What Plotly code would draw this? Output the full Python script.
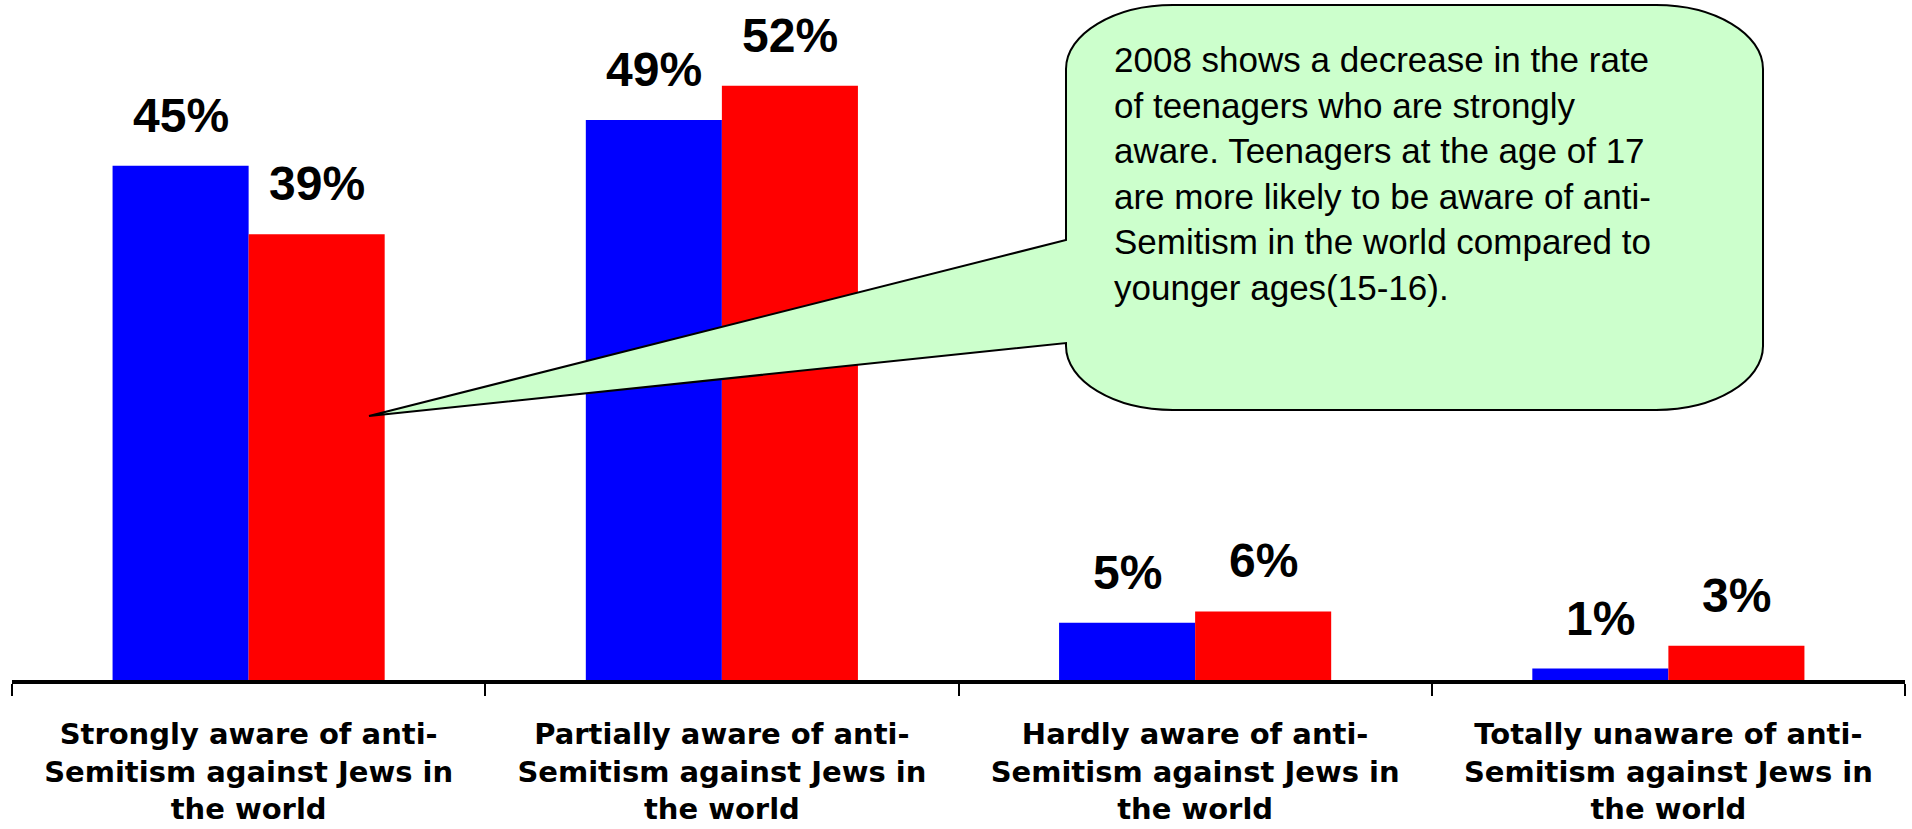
import plotly.graph_objects as go

# Chart data
categories = [
    "Strongly aware of anti-<br>Semitism against Jews in<br>the world",
    "Partially aware of anti-<br>Semitism against Jews in<br>the world",
    "Hardly aware of anti-<br>Semitism against Jews in<br>the world",
    "Totally unaware of anti-<br>Semitism against Jews in<br>the world",
]
series_names = ["Earlier survey", "2008"]
values_blue = [45, 49, 5, 1]
values_red = [39, 52, 6, 3]
callout_text = (
    "2008 shows a decrease in the rate<br>"
    "of teenagers who are strongly<br>"
    "aware. Teenagers at the age of 17<br>"
    "are more likely to be aware of anti-<br>"
    "Semitism in the world compared to<br>"
    "younger ages(15-16)."
)

W, H = 1912, 829
ML, MR, MT, MB = 12, 7, 0, 149
BARGAP = 0.425

fig = go.Figure()
fig.add_trace(go.Bar(x=categories, y=values_blue, name=series_names[0],
                     marker_color="#0000FF", marker_line_width=0))
fig.add_trace(go.Bar(x=categories, y=values_red, name=series_names[1],
                     marker_color="#FF0000", marker_line_width=0))

# value labels above each bar
bw = (1 - BARGAP) / 2
for i in range(len(categories)):
    for vals, off in ((values_blue, -bw / 2), (values_red, bw / 2)):
        fig.add_annotation(
            x=i + off, y=vals[i], xref="x", yref="y",
            text=f"{vals[i]}%", showarrow=False,
            yanchor="bottom", yshift=22,
            font=dict(family="Liberation Sans, Arial", size=48,
                      color="black", weight="bold"),
        )


# callout bubble (pixel coords -> paper coords)
pw = W - ML - MR
ph = H - MT - MB


def px(x, y):
    return f"{(x - ML) / pw:.5f},{(H - MB - y) / ph:.5f}"


x0, x1, y0, y1 = 1066, 1763, 5, 410
rx, ry = 107, 64
path = (
    f"M {px(x0 + rx, y0)} L {px(x1 - rx, y0)} "
    f"C {px(x1 - rx * 0.45, y0)} {px(x1, y0 + ry * 0.45)} {px(x1, y0 + ry)} "
    f"L {px(x1, y1 - ry)} "
    f"C {px(x1, y1 - ry * 0.45)} {px(x1 - rx * 0.45, y1)} {px(x1 - rx, y1)} "
    f"L {px(x0 + rx, y1)} "
    f"C {px(x0 + rx * 0.45, y1)} {px(x0, y1 - ry * 0.45)} {px(x0, y1 - ry)} "
    f"L {px(x0, 343)} L {px(369, 416)} L {px(x0, 240)} "
    f"L {px(x0, y0 + ry)} "
    f"C {px(x0, y0 + ry * 0.45)} {px(x0 + rx * 0.45, y0)} {px(x0 + rx, y0)} Z"
)
fig.add_shape(type="path", path=path, xref="paper", yref="paper",
              fillcolor="#CCFFCC", line=dict(color="black", width=2),
              layer="above")
fig.add_annotation(
    x=(1112 - ML) / pw, y=(H - MB - 38) / ph, xref="paper", yref="paper",
    xanchor="left", yanchor="top", align="left", showarrow=False,
    text=callout_text,
    font=dict(family="Liberation Sans, Arial", size=35, color="black"),
)

fig.update_layout(
    width=W, height=H,
    margin=dict(l=ML, r=MR, t=MT, b=MB, autoexpand=False),
    barmode="group", bargap=BARGAP, bargroupgap=0,
    plot_bgcolor="white", paper_bgcolor="white",
    showlegend=False,
    xaxis=dict(
        showline=True, linecolor="black", linewidth=4,
        ticks="outside", tickson="boundaries", ticklen=12,
        tickwidth=2, tickcolor="black", showgrid=False,
        ticklabelstandoff=25, automargin=False,
        tickfont=dict(family="DejaVu Sans", size=29,
                      color="black", weight="bold"),
    ),
    yaxis=dict(visible=False, range=[0, 59.5], showgrid=False),
)

# page body margin off so the figure sits at the window's corner
fig.write_html("out.html", config={"displayModeBar": False},
               post_script="document.body.style.margin='0';")
